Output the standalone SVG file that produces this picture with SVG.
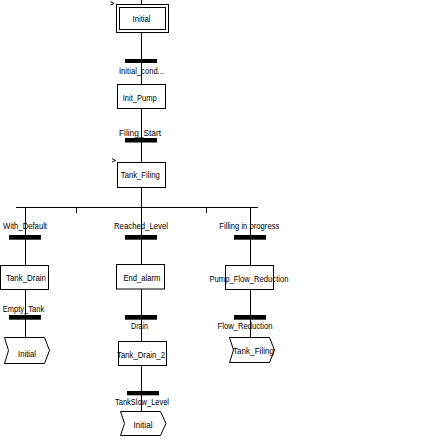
<svg xmlns="http://www.w3.org/2000/svg" width="436" height="442" viewBox="0 0 436 442">
<style>
.b{fill:#fff;stroke:#000;stroke-width:1}
.bar{fill:#000}
.l{fill:none;stroke:#000;stroke-width:1}
text{font-family:"Liberation Sans",Arial,sans-serif;font-size:9px;fill:#000;text-anchor:middle}
</style>
<rect width="436" height="442" fill="#fff"/>
<g id="connectors">
<path class="l" d="M141.5,0V4.5M141.5,32.5V84.5M141.5,108.5V162.5M141.5,187.5V264.5M141.5,289V341.5M141.5,365.5V411.5"/>
<path class="l" d="M16,207.5H258M76.5,207.5V213M206.5,207.5V213"/>
<path class="l" d="M25.5,207.5V265.5M25.5,289.5V337.5"/>
<path class="l" d="M250.5,207.5V265.5M250.5,289.5V337.5"/>
<path class="l" d="M110.5,1.5L114,3.5L110.5,5M112,158.5L115.5,160.5L112,162"/>
</g>
<g id="step-initial">
<rect class="b" x="116.5" y="4.5" width="52" height="28"/>
<rect class="b" x="119.5" y="7.5" width="46" height="22"/>
<text x="141.5" y="22" textLength="18" lengthAdjust="spacingAndGlyphs">Initial</text>
</g>
<g id="tr-initial-cond">
<rect class="bar" x="125" y="59" width="32" height="4"/>
<text x="141.5" y="74" textLength="45" lengthAdjust="spacingAndGlyphs">Initial_cond...</text>
</g>
<g id="step-init-pump">
<rect class="b" x="117.5" y="84.5" width="48" height="24"/>
<text x="139.7" y="101" textLength="34" lengthAdjust="spacingAndGlyphs">Init_Pump</text>
</g>
<g id="tr-filing-start">
<text x="140" y="136" textLength="42" lengthAdjust="spacingAndGlyphs">Filing_Start</text>
<rect class="bar" x="125" y="138" width="32" height="4.5"/>
</g>
<g id="step-tank-filing">
<rect class="b" x="117.5" y="162.5" width="48" height="25"/>
<text x="140.3" y="177.5" textLength="39" lengthAdjust="spacingAndGlyphs">Tank_Filing</text>
</g>
<g id="tr-with-default">
<text x="25" y="229" textLength="44" lengthAdjust="spacingAndGlyphs">With_Default</text>
<rect class="bar" x="9" y="235" width="32" height="4.7"/>
</g>
<g id="step-tank-drain">
<rect class="b" x="0.5" y="265.5" width="48" height="24"/>
<text x="26" y="281" textLength="40" lengthAdjust="spacingAndGlyphs">Tank_Drain</text>
</g>
<g id="tr-empty-tank">
<text x="23.5" y="311.5" textLength="41.6" lengthAdjust="spacingAndGlyphs">Empty_Tank</text>
<rect class="bar" x="9" y="315" width="32" height="4.7"/>
</g>
<g id="jump-initial-1">
<polygon class="b" points="4.5,337.5 44.5,337.5 49.5,350.5 44.5,363.5 4.5,363.5 8.5,350.5"/>
<text x="27" y="356.5" textLength="18" lengthAdjust="spacingAndGlyphs">Initial</text>
</g>
<g id="tr-reached-level">
<text x="141" y="228.5" textLength="54" lengthAdjust="spacingAndGlyphs">Reached_Level</text>
<rect class="bar" x="125" y="235" width="32" height="4.7"/>
</g>
<g id="step-end-alarm">
<rect class="b" x="116.5" y="264.5" width="48" height="24.5"/>
<text x="142" y="281" textLength="37" lengthAdjust="spacingAndGlyphs">End_alarm</text>
</g>
<g id="tr-drain">
<rect class="bar" x="125" y="315" width="32" height="4.7"/>
<text x="139.5" y="328.5" textLength="17" lengthAdjust="spacingAndGlyphs">Drain</text>
</g>
<g id="step-tank-drain-2">
<rect class="b" x="118.5" y="341.5" width="48" height="24"/>
<text x="141" y="358" textLength="48" lengthAdjust="spacingAndGlyphs">Tank_Drain_2</text>
</g>
<g id="tr-tankslow-level">
<rect class="bar" x="127" y="391" width="32" height="4.3"/>
<text x="142" y="404.5" textLength="54" lengthAdjust="spacingAndGlyphs">TankSlow_Level</text>
</g>
<g id="jump-initial-2">
<polygon class="b" points="120.5,411.5 160.5,411.5 166,423.5 160.5,435.5 120.5,435.5 124.5,423.5"/>
<text x="143" y="428" textLength="19" lengthAdjust="spacingAndGlyphs">Initial</text>
</g>
<g id="tr-filling-in-progress">
<text x="249.3" y="229" textLength="60" lengthAdjust="spacingAndGlyphs">Filling in progress</text>
<rect class="bar" x="234" y="235" width="32" height="4.7"/>
</g>
<g id="step-pump-flow-reduction">
<rect class="b" x="225.5" y="265.5" width="48" height="24"/>
<text x="249" y="281.5" textLength="79" lengthAdjust="spacingAndGlyphs">Pump_Flow_Reduction</text>
</g>
<g id="tr-flow-reduction">
<rect class="bar" x="234" y="315" width="32" height="4.7"/>
<text x="245" y="328.5" textLength="55" lengthAdjust="spacingAndGlyphs">Flow_Reduction</text>
</g>
<g id="jump-tank-filing">
<polygon class="b" points="229.5,337.5 269.5,337.5 274.5,350 269.5,362.5 229.5,362.5 233.5,350"/>
<text x="253.5" y="354" textLength="41" lengthAdjust="spacingAndGlyphs">Tank_Filing</text>
</g>
</svg>
